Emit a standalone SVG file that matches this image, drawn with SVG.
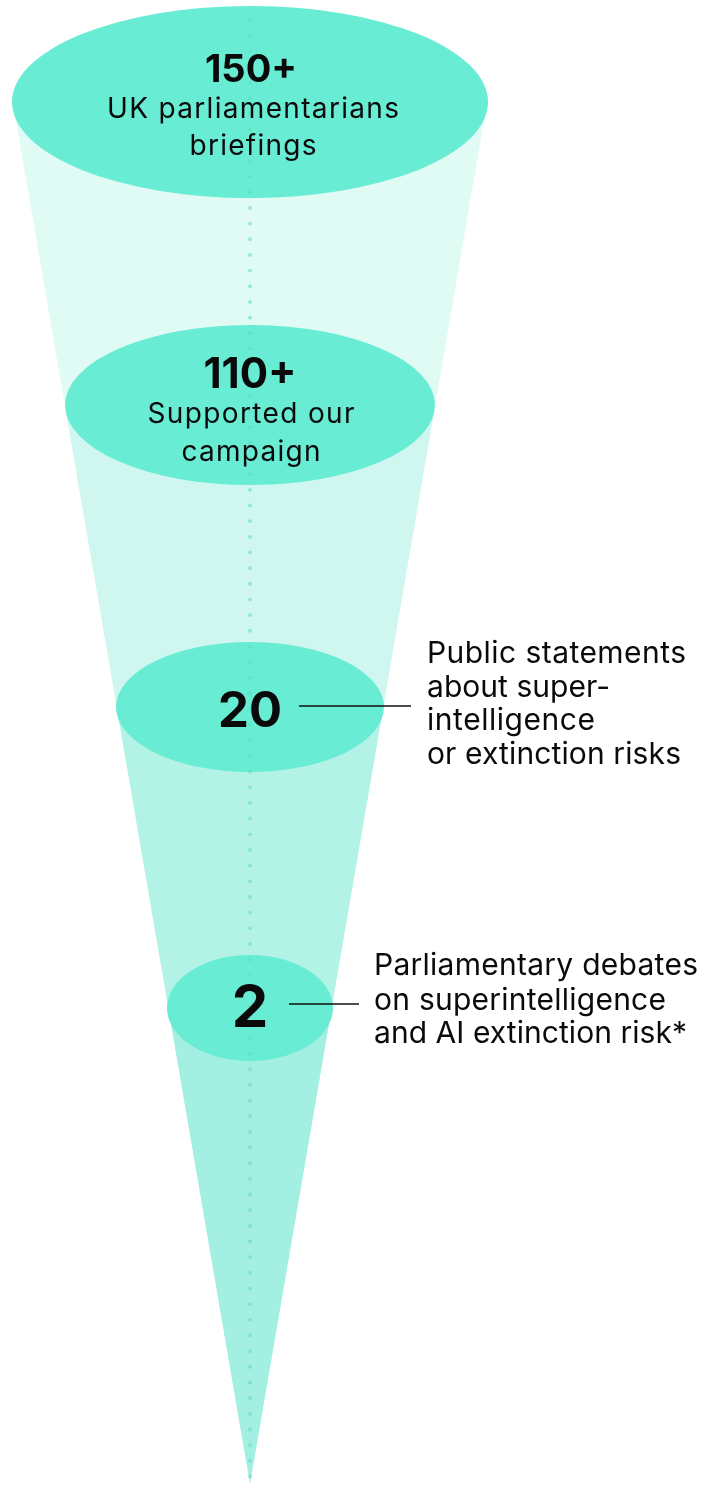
<svg xmlns="http://www.w3.org/2000/svg" width="716" height="1485" viewBox="0 0 716 1485">
  <style>
    .disc { fill: #68ecd4; }
    .num { font-family: Inter, "Liberation Sans", sans-serif; font-weight: 700; fill: #0a0a0a; text-anchor: middle; }
    .lbl { font-family: Inter, "Liberation Sans", sans-serif; font-weight: 400; fill: #0a0a0a; }
    .in { font-size: 28px; text-anchor: middle; }
    .side { font-size: 30px; }
    .leader { stroke: #111; stroke-width: 1.3; fill: none; }
    .dots { stroke: #59dfbf; stroke-width: 3.8; stroke-linecap: round; stroke-dasharray: 0 15.66; opacity: 0.6; mix-blend-mode: darken; }
  </style>
  <rect width="716" height="1485" fill="#ffffff"/>
  <g id="cone">
    <polygon points="13,103 487,103 250,1483" fill="#e0faf4"/>
    <polygon points="64.9,405 435.1,405 250,1483" fill="#cff7ef"/>
    <polygon points="116.7,707 383.3,707 250,1483" fill="#b3f3e6"/>
    <polygon points="168.4,1008 331.6,1008 250,1483" fill="#a3efe1"/>
  </g>
  <g id="node-150">
    <ellipse class="disc" cx="250" cy="102" rx="238" ry="96"/>
    <text class="num" x="251" y="82" font-size="38">150+</text>
    <text class="lbl in" x="253" y="118" textLength="292" lengthAdjust="spacing">UK parliamentarians</text>
    <text class="lbl in" x="253" y="155" textLength="127" lengthAdjust="spacing">briefings</text>
  </g>
  <g id="node-110">
    <ellipse class="disc" cx="250" cy="405" rx="185" ry="80"/>
    <text class="num" x="250" y="388" font-size="42">110+</text>
    <text class="lbl in" x="251" y="423" textLength="207" lengthAdjust="spacing">Supported our</text>
    <text class="lbl in" x="251" y="461" textLength="139" lengthAdjust="spacing">campaign</text>
  </g>
  <g id="node-20">
    <ellipse class="disc" cx="250" cy="707" rx="134" ry="65"/>
    <text class="num" x="250" y="727" font-size="49">20</text>
    <text class="lbl side" x="427" y="663" textLength="259" lengthAdjust="spacing">Public statements</text>
    <text class="lbl side" x="427" y="697" textLength="183" lengthAdjust="spacing">about super-</text>
    <text class="lbl side" x="427" y="730" textLength="168" lengthAdjust="spacing">intelligence</text>
    <text class="lbl side" x="427" y="764" textLength="254" lengthAdjust="spacing">or extinction risks</text>
  </g>
  <g id="node-2">
    <ellipse class="disc" cx="250" cy="1008" rx="83" ry="53"/>
    <text class="num" x="250" y="1027" font-size="58">2</text>
    <text class="lbl side" x="374" y="975" textLength="324" lengthAdjust="spacing">Parliamentary debates</text>
    <text class="lbl side" x="374" y="1010" textLength="292" lengthAdjust="spacing">on superintelligence</text>
    <text class="lbl side" x="374" y="1043" textLength="313" lengthAdjust="spacing">and AI extinction risk*</text>
  </g>
  <g id="connectors">
    <line class="leader" x1="299" y1="706" x2="411" y2="706"/>
    <line class="leader" x1="289" y1="1004" x2="359" y2="1004"/>
  </g>
  <g id="axis">
    <line class="dots" x1="250" y1="20" x2="250" y2="1478"/>
  </g>
</svg>
